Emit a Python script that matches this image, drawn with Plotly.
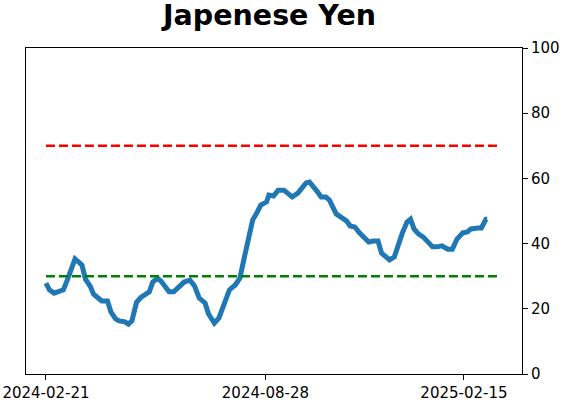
import plotly.graph_objects as go

dates = [
    "2024-02-21", "2024-02-24", "2024-02-28", "2024-03-04", "2024-03-07", "2024-03-11",
    "2024-03-14", "2024-03-17", "2024-03-20", "2024-03-23", "2024-03-26", "2024-03-30",
    "2024-04-02", "2024-04-05", "2024-04-09", "2024-04-14", "2024-04-17", "2024-04-21",
    "2024-04-24", "2024-04-29", "2024-05-02", "2024-05-05", "2024-05-09", "2024-05-13",
    "2024-05-16", "2024-05-20", "2024-05-23", "2024-05-27", "2024-05-30", "2024-06-03",
    "2024-06-06", "2024-06-10", "2024-06-15", "2024-06-19", "2024-06-24", "2024-06-28",
    "2024-07-02", "2024-07-07", "2024-07-10", "2024-07-13", "2024-07-15", "2024-07-19",
    "2024-07-24", "2024-07-28", "2024-08-02", "2024-08-06", "2024-08-09", "2024-08-11",
    "2024-08-15", "2024-08-17", "2024-08-21", "2024-08-24", "2024-08-29", "2024-08-31",
    "2024-09-04", "2024-09-08", "2024-09-13", "2024-09-17", "2024-09-20", "2024-09-25",
    "2024-09-28", "2024-10-02", "2024-10-05", "2024-10-09", "2024-10-12", "2024-10-15",
    "2024-10-19", "2024-10-22", "2024-10-25", "2024-10-28", "2024-11-02", "2024-11-06",
    "2024-11-09", "2024-11-13", "2024-11-17", "2024-11-21", "2024-11-25", "2024-11-29",
    "2024-12-03", "2024-12-06", "2024-12-10", "2024-12-13", "2024-12-17", "2024-12-21",
    "2024-12-24", "2024-12-28", "2024-12-31", "2025-01-03", "2025-01-07", "2025-01-11",
    "2025-01-15", "2025-01-19", "2025-01-23", "2025-01-27", "2025-02-01", "2025-02-05",
    "2025-02-09", "2025-02-14", "2025-02-18", "2025-02-21", "2025-02-27", "2025-03-02",
    "2025-03-06", "2025-03-07",
]
values = [
    27.9, 25.8, 24.8, 25.5, 25.8, 29.4,
    32.5, 35.3, 34.4, 33.4, 29.1, 27.0,
    24.5, 23.6, 22.4, 22.4, 19.0, 16.9,
    16.3, 16.0, 15.3, 16.3, 22.0, 23.6,
    24.2, 25.2, 28.2, 29.4, 28.5, 26.7,
    25.2, 25.2, 27.0, 28.2, 28.8, 27.0,
    23.3, 21.8, 18.4, 16.6, 15.6, 17.2,
    21.8, 25.8, 27.3, 29.4, 34.4, 38.0,
    44.2, 47.2, 49.7, 51.8, 52.8, 54.9,
    54.6, 56.4, 56.4, 55.2, 54.3, 55.5,
    57.0, 58.6, 58.9, 57.4, 55.8, 54.3,
    54.3, 53.4, 51.2, 49.1, 47.9, 46.9,
    45.4, 45.1, 43.3, 41.7, 40.5, 40.8,
    40.8, 37.1, 35.6, 35.0, 35.9, 40.5,
    43.3, 46.6, 47.5, 44.5, 42.9, 42.0,
    40.5, 39.0, 39.0, 39.3, 38.3, 38.3,
    41.4, 43.3, 43.6, 44.5, 44.8, 44.8,
    47.5, 47.5,
]

upper_level = 70
lower_level = 30
ref_span = ["2024-02-21", "2025-03-18"]
tick_dates = ["2024-02-21", "2024-08-28", "2025-02-15"]
x_range = ["2024-02-03 19:00", "2025-04-06"]
title_text = "Japenese Yen"

fig = go.Figure()
fig.add_trace(go.Scatter(x=dates, y=values, mode="lines",
                         line=dict(color="#1f77b4", width=5), showlegend=False))
fig.add_trace(go.Scatter(x=ref_span, y=[upper_level, upper_level], mode="lines",
                         line=dict(color="red", width=2.5, dash="9px,4px"), showlegend=False))
fig.add_trace(go.Scatter(x=ref_span, y=[lower_level, lower_level], mode="lines",
                         line=dict(color="green", width=2.5, dash="9px,4px"), showlegend=False))

fig.update_layout(
    width=562, height=402,
    margin=dict(l=26, r=40, t=48, b=28, autoexpand=False),
    paper_bgcolor="white", plot_bgcolor="white",
    font=dict(family="DejaVu Sans", size=15, color="black"),
    title=dict(text="<b>" + title_text + "</b>", x=(269.5 - 26) / 496, xref="paper",
               xanchor="center", y=0.962, yref="container", yanchor="middle",
               font=dict(size=28.5, family="DejaVu Sans", color="black")),
)
fig.update_xaxes(range=x_range, tickvals=tick_dates, ticktext=tick_dates, automargin=False,
                 showgrid=False, zeroline=False, showline=True, linecolor="black",
                 linewidth=1, mirror=True, ticks="outside", ticklen=5, tickcolor="black",
                 tickfont=dict(size=15))
fig.update_yaxes(range=[0, 100], dtick=20, side="right", automargin=False,
                 showgrid=False, zeroline=False, showline=True, linecolor="black",
                 linewidth=1, mirror=True, ticks="outside", ticklen=5, tickcolor="black",
                 tickfont=dict(size=15))

fig.write_html("out.html")
